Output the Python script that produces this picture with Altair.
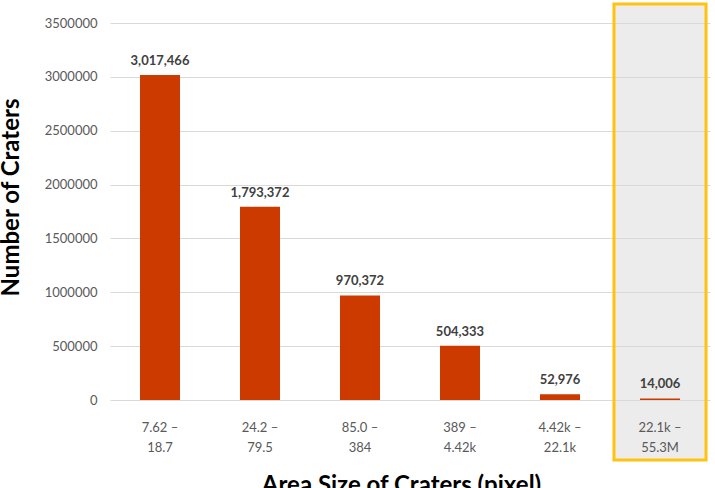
import altair as alt
import pandas as pd

# Crater counts per area-size bin
size_bins = [
    "7.62 –\n18.7",
    "24.2 –\n79.5",
    "85.0 –\n384",
    "389 –\n4.42k",
    "4.42k –\n22.1k",
    "22.1k –\n55.3M",
]
crater_counts = [3017466, 1793372, 970372, 504333, 52976, 14006]
highlight_bin = size_bins[-1]

df = pd.DataFrame({"bin": size_bins, "count": crater_counts})
df["label"] = [f"{v:,}" for v in crater_counts]

FONT = "Lato"
BAR = "#CC3A00"

x_enc = alt.X(
    "bin:N",
    sort=size_bins,
    scale=alt.Scale(paddingInner=0.6, paddingOuter=0.3),
    axis=alt.Axis(
        title="Area Size of Craters (pixel)",
        labelExpr="split(datum.label, '\\n')",
        labelAngle=0,
        labelFont=FONT,
        labelFontSize=13,
        labelColor="#595959",
        labelLineHeight=20,
        labelPadding=21,
        labelBaseline="top",
        domain=False,
        ticks=False,
        zindex=1,
        titleFont=FONT,
        titleFontSize=24,
        titleFontWeight="bold",
        titleColor="#000000",
        titleX=291,
        titleY=73,
        titleBaseline="top",
    ),
)

y_scale = alt.Scale(domain=[0, 3500000], nice=False)
y_axis = alt.Axis(
    title="Number of Craters",
    values=[0, 500000, 1000000, 1500000, 2000000, 2500000, 3000000, 3500000],
    format="d",
    labelFont=FONT,
    labelFontSize=13,
    labelColor="#595959",
    labelPadding=13,
    domain=False,
    ticks=False,
    grid=True,
    gridColor="#D9D9D9",
    gridWidth=1,
    titleFont=FONT,
    titleFontSize=24,
    titleFontWeight="bold",
    titleColor="#000000",
    titleX=-99,
    titleY=174,
    titleBaseline="middle",
)

base = alt.Chart(df)

# Highlight frame around the largest-size bin
frame = (
    base.transform_filter(alt.datum.bin == highlight_bin)
    .mark_bar(
        width=92,
        fill="#D9D9D9",
        fillOpacity=0.5,
        stroke="#FFC20E",
        strokeWidth=3,
    )
    .encode(x=x_enc, y=alt.value(-19), y2=alt.value(437))
)

bars = base.mark_bar(color=BAR, width=40).encode(
    x=x_enc,
    y=alt.Y("count:Q", scale=y_scale, axis=y_axis),
)

labels = base.mark_text(
    font=FONT,
    fontSize=13,
    fontWeight="bold",
    color="#404040",
    baseline="bottom",
    dy=-7,
).encode(x=x_enc, y=alt.Y("count:Q", scale=y_scale), text="label:N")

chart = (
    alt.layer(frame, bars, labels)
    .properties(
        width=600,
        height=377,
        padding={"left": 110, "top": 23, "right": 5, "bottom": 88},
        autosize=alt.AutoSizeParams(type="none"),
        background="white",
    )
    .configure_view(stroke=None)
)

chart.save("out.html", embed_options={"renderer": "svg", "actions": False})
